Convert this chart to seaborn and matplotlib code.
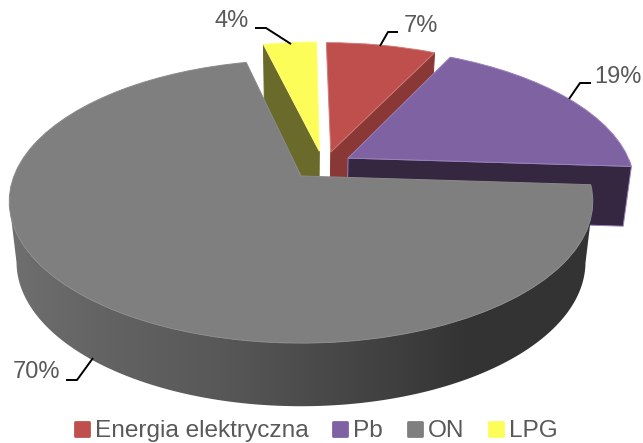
import numpy as np
import matplotlib
matplotlib.use("Agg")
import matplotlib.pyplot as plt
import seaborn as sns
from matplotlib.colors import LinearSegmentedColormap
from matplotlib.lines import Line2D
from matplotlib.markers import MarkerStyle
from matplotlib.patches import Polygon
from matplotlib.transforms import Transform

# ---- data ----
categories = ["Energia elektryczna", "Pb", "ON", "LPG"]
shares = [7.4, 18.6, 70.4, 3.6]

# ---- style ----
top_colors = ["#BE4F4C", "#7F62A1", "#7F7F7F", "#FDFD5A"]
edge_colors = ["#D07A77", "#9A80BC", "#8A8A8A", "#FFFF80"]
cut_colors = ["#893836", "#34273F", "#3A3A3A", "#6A6A2B"]
explode_x = [0.107, 0.168, 0.0, 0.066]
explode_y = [0.18, 0.134, 0.0, 0.187]
draw_order = [2, 4, 6, 2]  # ON in front, then Pb, then the two back slices
TEXT = "#595959"

sns.set_theme(style="white")
plt.rcParams["font.family"] = ["Liberation Sans", "DejaVu Sans"]
palette = sns.color_palette(top_colors)

# 3-D view of the disc: world X/Y are in units of the pie radius
CX, CY, A, B, K = 301.0, 176.0, 287.0, 137.0, 0.18
DEPTH, SX, SY = 60.0, 0.975, 0.94


def project(x, y, low=False):
    x, y = np.asarray(x, float), np.asarray(y, float)
    w = 1 + K * y
    if low:
        return CX + SX * A * x / w, CY + (DEPTH - SY * B * y) / w
    return CX + A * x / w, CY - B * y / w


class TopSurface(Transform):
    input_dims = output_dims = 2
    is_separable = False
    has_inverse = False

    def transform_non_affine(self, values):
        u, v = project(values[:, 0], values[:, 1])
        return np.column_stack([u, v])


fig = plt.figure(figsize=(6.43, 4.43), dpi=100)
ax = fig.add_axes([0, 0, 1, 1])

wedges, _ = ax.pie(shares, colors=palette, startangle=90, counterclock=False)

surface = TopSurface() + ax.transData


def rim(theta, ox, oy):
    t = np.radians(theta)
    return ox + np.cos(t), oy + np.sin(t)


# gradient of the visible outer wall of the biggest slice
wall_x = [0, 100, 220, 300, 400, 470, 600]
wall_g = [0.44, 0.39, 0.345, 0.30, 0.245, 0.20, 0.20]
wall_cmap = LinearSegmentedColormap.from_list(
    "wall", [(x / 600, (g, g, g)) for x, g in zip(wall_x, wall_g)]
)

for i, w in enumerate(wedges):
    ox, oy = explode_x[i], explode_y[i]
    z = draw_order[i]
    w.set_center((ox, oy))
    w.set_transform(surface)
    w.set_edgecolor(edge_colors[i])
    w.set_linewidth(0.7)
    w.set_zorder(z + 0.5)

    # flat cut faces (from centre to one rim end)
    if i != 2:
        theta = w.theta2 if i == 3 else w.theta1
        rx, ry = rim(theta, ox, oy)
        u0, v0 = project([ox, rx], [oy, ry])
        u1, v1 = project([rx, ox], [ry, oy], low=True)
        ax.fill(np.r_[u0, u1], np.r_[v0, v1], facecolor=cut_colors[i],
                edgecolor=edge_colors[i] if i == 1 else cut_colors[i],
                linewidth=0.7, zorder=z)
    else:
        # outer wall of the front slice, shaded left to right;
        # only the part of the rim facing the viewer is needed
        thetas = np.linspace(w.theta1, w.theta2, 600)
        rx, ry = rim(thetas, ox, oy)
        front = ry <= -K
        rx, ry = rx[front], ry[front]
        uu, vu = project(rx, ry)
        ul, vl = project(rx, ry, low=True)
        outline = np.column_stack([np.r_[uu, ul[::-1]], np.r_[vu, vl[::-1]]])
        clip = Polygon(outline, closed=True, transform=ax.transData,
                       facecolor="none", edgecolor="none")
        ax.add_patch(clip)
        img = ax.imshow(np.linspace(0, 1, 256)[None, :], cmap=wall_cmap, vmin=0, vmax=1,
                        extent=(0, 600, 420, 150), aspect="auto", zorder=z,
                        interpolation="bilinear")
        img.set_clip_path(clip)

ax.set_aspect("auto")
ax.set_xlim(0, 643)
ax.set_ylim(443, 0)
ax.axis("off")

# ---- data labels with leader lines ----
labels = [f"{round(s)}%" for s in shares]
label_pos = [(421, 26), (618, 77), (36, 372), (232, 21)]
leaders = [
    [(398, 32), (388, 32), (380, 46)],
    [(591, 83), (580, 83), (569, 99)],
    [(66, 380), (77, 380), (93, 358)],
    [(255, 28), (266, 28), (291, 44)],
]
for txt, (x, y), pts in zip(labels, label_pos, leaders):
    ax.text(x, y, txt, ha="center", va="center", fontsize=17, color=TEXT, zorder=10)
    px, py = zip(*pts)
    ax.plot(px, py, color="black", lw=1.4, zorder=10, solid_capstyle="butt")

# ---- legend ----
handles = [
    Line2D([], [], linestyle="none", marker=MarkerStyle("s", joinstyle="round"),
           markersize=9.5, markeredgewidth=2, color=c)
    for c in palette
]
ax.legend(handles, categories, loc="center", bbox_to_anchor=(315 / 643, 1 - 431 / 443),
          ncol=4, frameon=False, fontsize=17.6, labelcolor=TEXT, handlelength=0.75,
          handletextpad=0.15, columnspacing=0.93, borderpad=0)

fig.savefig("out.png", dpi=100, facecolor="white")
